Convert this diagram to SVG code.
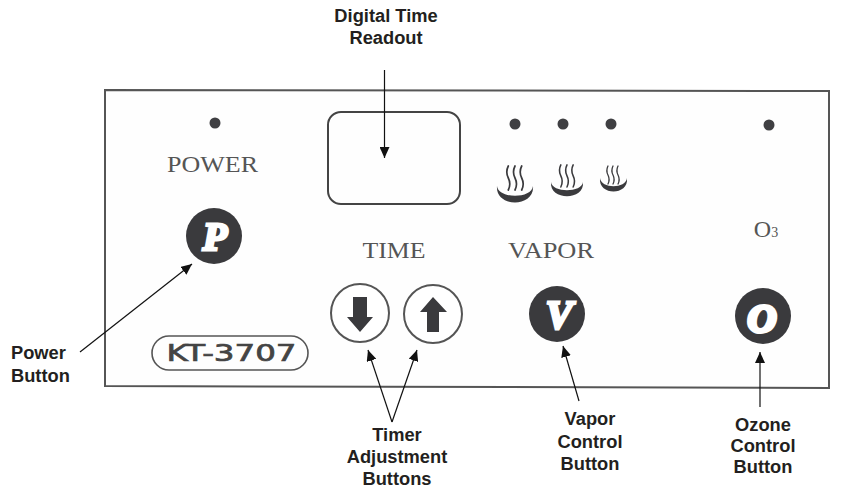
<svg xmlns="http://www.w3.org/2000/svg" width="853" height="489" viewBox="0 0 853 489">
<style>
.lbl{font:bold 18.3px "Liberation Sans",Arial,sans-serif;fill:#231f20;text-anchor:middle}
.lbs{text-anchor:start}
.pan{font-family:"Liberation Serif","Times New Roman",serif;font-size:24px;fill:#555;text-anchor:middle}
.led{fill:#3f3f42}
.btn{fill:#3a3a3d}
.ring{fill:#fff;stroke:#555;stroke-width:2}
.glyph{font:italic bold 40px "Liberation Serif",serif;fill:#fff;stroke:#fff;stroke-width:3;text-anchor:middle}
.steam{fill:none;stroke:#3a3a3d;stroke-width:1.7;stroke-linecap:round}
.bowl{fill:#3a3a3d}
.ar{fill:none;stroke:#111;stroke-width:1.2}
</style>
<defs>
<marker id="ah" viewBox="0 0 11 10" refX="11" refY="5" markerWidth="11" markerHeight="10" markerUnits="userSpaceOnUse" orient="auto"><path d="M0 0L11 5L0 10Z" fill="#111"/></marker>
<g id="steam"><path class="steam" d="M-6.7 -24q-3 6 0 12t0 12M0 -24q-3 6 0 12t0 12M6.7 -24q-3 6 0 12t0 12"/></g>
</defs>
<rect width="853" height="489" fill="#fff"/>
<path id="panel" d="M105 90L829 91L829 388L105 386Z" fill="#fefefe" stroke="#555" stroke-width="2"/>
<g id="power-led"><circle class="led" cx="215" cy="123" r="5.5"/><text class="pan" x="212.500" y="172" textLength="91" lengthAdjust="spacingAndGlyphs">POWER</text></g>
<g id="readout"><rect x="328" y="112" width="132" height="92" rx="13" fill="none" stroke="#444" stroke-width="2"/><text class="pan" x="394" y="258" textLength="63" lengthAdjust="spacingAndGlyphs">TIME</text></g>
<g id="vapor-leds">
<circle class="led" cx="515" cy="124" r="5.5"/><circle class="led" cx="563" cy="124" r="5.5"/><circle class="led" cx="611" cy="124" r="5.5"/>
<use href="#steam" transform="translate(515,190)"/><path class="bowl" d="M497 186C495 208 535 208 533 186C532 199 498 199 497 186Z"/>
<use href="#steam" transform="translate(567,187) scale(.92)"/><path class="bowl" d="M551 182C549 201 585 201 583 182C582 193 552 193 551 182Z"/>
<use href="#steam" transform="translate(613,184) scale(.75)"/><path class="bowl" d="M600 178C598 196 629 196 627 178C626 189 601 189 600 178Z"/>
<text class="pan" x="551" y="258" textLength="86" lengthAdjust="spacingAndGlyphs">VAPOR</text></g>
<g id="ozone-led"><circle class="led" cx="769" cy="125" r="5.5"/><text class="pan" x="766" y="237">O<tspan font-size="14">3</tspan></text></g>
<g id="power-button"><circle class="btn" cx="214" cy="236" r="28"/><text class="glyph" x="215" y="250">P</text></g>
<g id="down-button"><circle class="ring" cx="360" cy="313" r="29"/><path d="M353 297H367V317H373L360 332L347 317H353Z" fill="#3a3a3d"/></g>
<g id="up-button"><circle class="ring" cx="433" cy="314" r="29"/><path d="M427 332H439V312H447L433 297L420 312H427Z" fill="#3a3a3d"/></g>
<g id="model"><rect x="152" y="336" width="156" height="34" rx="17" fill="none" stroke="#555" stroke-width="1.6"/><text x="231.500" y="361" font-family="DejaVu Sans,sans-serif" font-size="23" fill="#444" stroke="#444" stroke-width=".7" text-anchor="middle" textLength="130" lengthAdjust="spacingAndGlyphs">KT-3707</text></g>
<g id="vapor-button"><circle class="btn" cx="557" cy="314" r="28"/><text class="glyph" x="559" y="328">V</text></g>
<g id="ozone-button"><circle class="btn" cx="763" cy="316" r="28"/><text class="glyph" x="762" y="332" style="stroke-width:4px">O</text></g>
<g id="connectors">
<line class="ar" x1="384.500" y1="70" x2="384.500" y2="158" marker-end="url(#ah)"/>
<line class="ar" x1="80" y1="352" x2="192" y2="264" marker-end="url(#ah)"/>
<line class="ar" x1="392" y1="422" x2="368" y2="350" marker-end="url(#ah)"/>
<line class="ar" x1="392" y1="422" x2="417" y2="350" marker-end="url(#ah)"/>
<line class="ar" x1="579" y1="401" x2="563" y2="346" marker-end="url(#ah)"/>
<line class="ar" x1="760" y1="407" x2="760" y2="352" marker-end="url(#ah)"/>
</g>
<g id="labels">
<text class="lbl" x="386" y="22">Digital Time</text><text class="lbl" x="386" y="44">Readout</text>
<text class="lbl lbs" x="11" y="359">Power</text><text class="lbl lbs" x="11" y="382">Button</text>
<text class="lbl" x="397" y="441">Timer</text><text class="lbl" x="397" y="463">Adjustment</text><text class="lbl" x="397" y="485">Buttons</text>
<text class="lbl" x="590" y="425">Vapor</text><text class="lbl" x="590" y="448">Control</text><text class="lbl" x="590" y="470">Button</text>
<text class="lbl" x="763" y="431">Ozone</text><text class="lbl" x="763" y="452">Control</text><text class="lbl" x="763" y="473">Button</text>
</g>
</svg>
